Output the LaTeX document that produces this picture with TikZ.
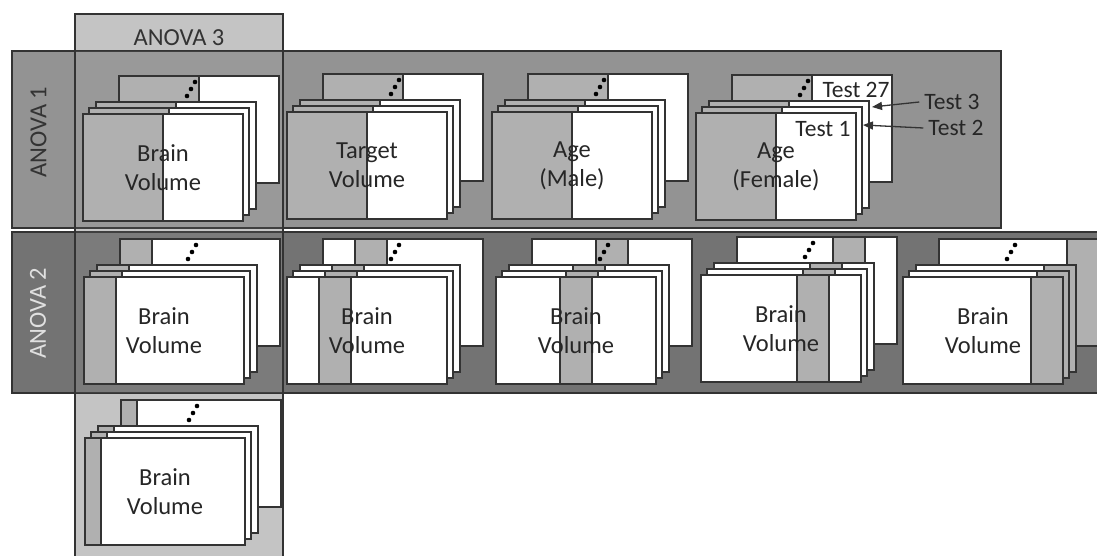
\documentclass[tikz,border=0pt]{standalone}
\usepackage{fontspec}
\setmainfont{Carlito}
\usetikzlibrary{arrows.meta, calc}
\definecolor{rimgray}{HTML}{333333}
\definecolor{cardgray}{HTML}{B0B0B0}
\definecolor{onegray}{HTML}{939393}
\definecolor{twogray}{HTML}{737373}
\definecolor{threegray}{HTML}{C4C4C4}

\begin{document}
\begin{tikzpicture}[x=1pt, y=-1pt,
  card/.style={rectangle, draw=rimgray, fill=white, line width=1.5pt, minimum width=160pt, minimum height=107pt, inner sep=0pt, outer sep=0pt, anchor=north west},
  strip/.style={draw=rimgray, fill=cardgray, line width=1.5pt},
  band/.style={draw=rimgray, line width=1.3pt},
  lbl/.style={align=center, font=\fontsize{24.5}{29}\selectfont, text=black!85},
  testlbl/.style={font=\fontsize{23.5}{28}\selectfont, text=black!85, inner sep=2pt, inner xsep=5pt},
  tarrow/.style={-{Triangle[length=10pt,width=8pt]}, line width=1.3pt, rimgray},
]
  \useasboundingbox (0,0) rectangle (1097,556);
  \clip (0,0) rectangle (1097,556);

  % ANOVA blocks
  \fill[threegray] (75,14) rectangle (283,560);
  \draw[band, fill=onegray] (12,51) rectangle (1001,228);
  \draw[band, fill=twogray] (12,232) rectangle (1105,393);
  \fill[white, fill opacity=0.06] (75,51) rectangle (283,393);
  \draw[band] (75,14) rectangle (283,560);

  \node[rotate=90, font=\fontsize{24.5}{29}\selectfont, text=rimgray] (a1) at (38.5,132) {ANOVA 1};
  \node[rotate=90, font=\fontsize{24.5}{29}\selectfont, text=white!88!black] (a2) at (38,313) {ANOVA 2};
  \node[font=\fontsize{24.5}{29}\selectfont, text=rimgray] (a3) at (179,38) {ANOVA 3};

  % card stacks: name/x/y/strip from/strip to/text
  \foreach \n/\x/\y/\a/\b/\txt in {
      p1/83/114/0/0.5/{Brain\\Volume},
      p2/287/112/0/0.5/{Target\\Volume},
      p3/492/112/0/0.5/{Age\\(Male)},
      p4/696/113/0/0.5/{Age\\(Female)},
      q1/84/277/0/0.2/{Brain\\Volume},
      q2/287/277/0.2/0.4/{Brain\\Volume},
      q3/496/277/0.4/0.6/{Brain\\Volume},
      q4/701/275/0.6/0.8/{Brain\\Volume},
      q5/903/277/0.8/1/{Brain\\Volume},
      r1/85/438/0/0.1/{Brain\\Volume}}
  {
    \foreach \c/\dx/\dy in {b/36/-38, 3/13/-12, 2/6/-6, 1/0/0} {
      \node[card] (\n-\c) at (\x+\dx,\y+\dy) {};
      \draw[strip] ($(\n-\c.north west)!\a!(\n-\c.north east)$) rectangle ($(\n-\c.south west)!\b!(\n-\c.south east)$);
    }
    \foreach \dx/\dy in {76/6, 72/13, 68/20}
      \fill[black] ($(\n-b.north west)+(\dx,\dy)$) circle[radius=2.3pt];
    \node[lbl] (t-\n) at (\n-1.center) {\txt};
  }

  % test labels
  \node[testlbl] (test27) at (856,90) {Test 27};
  \node[testlbl] (test1) at (823,129) {Test 1};
  \node[testlbl] (test3) at (952,102) {Test 3};
  \node[testlbl] (test2) at (956,128) {Test 2};

  \coordinate (tip3) at ($(p4-3.north east)+(3,6)$);
  \coordinate (tip2) at ($(p4-2.north east)+(1,18)$);
  \draw[tarrow] (test3.west) -- (tip3);
  \draw[tarrow] (test2.west) -- (tip2);
\end{tikzpicture}
\end{document}
